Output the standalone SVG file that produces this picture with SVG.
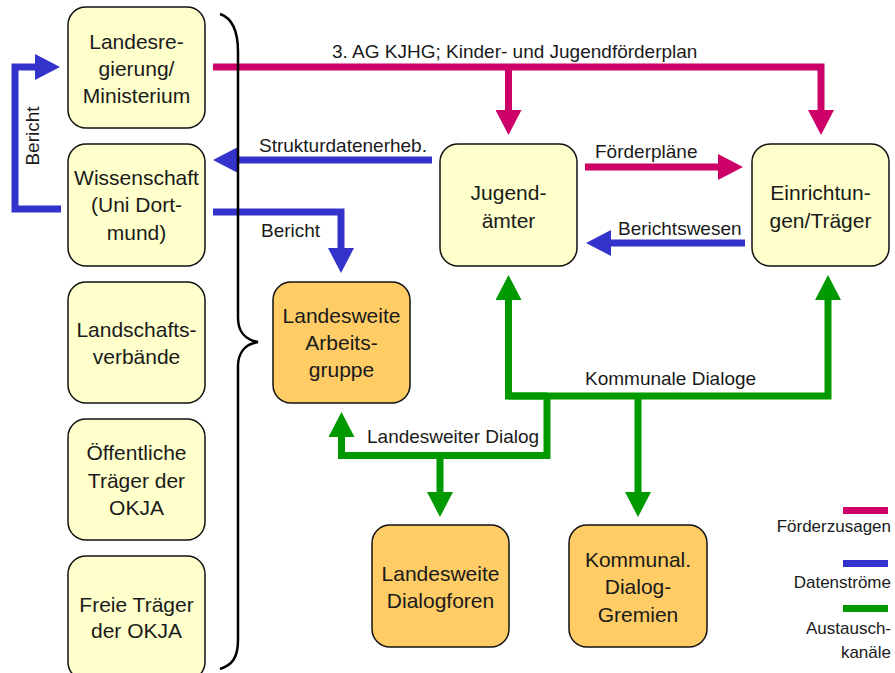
<svg xmlns="http://www.w3.org/2000/svg" width="895" height="673" viewBox="0 0 895 673">
<style>
.y{fill:#FFFFCC;stroke:#111;stroke-width:1.5}
.o{fill:#FFCC66;stroke:#111;stroke-width:1.5}
.t{font-family:"Liberation Sans",Arial,sans-serif;font-size:21px;fill:#1a1a1a;text-anchor:middle}
.l{font-family:"Liberation Sans",Arial,sans-serif;font-size:19px;fill:#1a1a1a}
.lg{font-family:"Liberation Sans",Arial,sans-serif;font-size:17px;fill:#1a1a1a;text-anchor:end}
.m{fill:none;stroke:#CC0066;stroke-width:7}
.b{fill:none;stroke:#3333CC;stroke-width:7}
.g{fill:none;stroke:#009900;stroke-width:7}
</style>
<defs>
<marker id="am" markerUnits="userSpaceOnUse" markerWidth="26" markerHeight="26" viewBox="0 -13 25 26" refX="0" refY="0" orient="auto"><path d="M0,-13L25,0L0,13z" fill="#CC0066"/></marker>
<marker id="ab" markerUnits="userSpaceOnUse" markerWidth="26" markerHeight="26" viewBox="0 -13 25 26" refX="0" refY="0" orient="auto"><path d="M0,-13L25,0L0,13z" fill="#3333CC"/></marker>
<marker id="ag" markerUnits="userSpaceOnUse" markerWidth="26" markerHeight="26" viewBox="0 -13 25 26" refX="0" refY="0" orient="auto"><path d="M0,-13L25,0L0,13z" fill="#009900"/></marker>
</defs>
<rect width="895" height="673" fill="#fff"/>

<g id="connectors">
<path class="m" d="M213,67H821V110" marker-end="url(#am)"/>
<path class="m" d="M508.5,67V110" marker-end="url(#am)"/>
<path class="m" d="M585,167H718" marker-end="url(#am)"/>
<path class="b" d="M745,243H611" marker-end="url(#ab)"/>
<path class="b" d="M432,160H238" marker-end="url(#ab)"/>
<path class="b" d="M213,212H341V248" marker-end="url(#ab)"/>
<path class="b" d="M61,209H15V67H35" marker-end="url(#ab)"/>
<path class="g" d="M508.5,396H828V300" marker-end="url(#ag)"/>
<path class="g" d="M547,396H508.5V300" marker-end="url(#ag)"/>
<path class="g" d="M638,396V492" marker-end="url(#ag)"/>
<path class="g" d="M547,396V455.5H341.5V437" marker-end="url(#ag)"/>
<path class="g" d="M440,455.5V492" marker-end="url(#ag)"/>
<path d="M220,14C232,18 238,30 238,52V318C238,332 246,340 258,342C246,344 238,352 238,366V640C238,658 232,665 220,669" fill="none" stroke="#000" stroke-width="2.5"/>
</g>

<g id="labels">
<text class="l" x="332" y="58">3. AG KJHG; Kinder- und Jugendförderplan</text>
<text class="l" x="259" y="152">Strukturdatenerheb.</text>
<text class="l" x="261" y="237">Bericht</text>
<text class="l" x="595" y="158">Förderpläne</text>
<text class="l" x="618" y="235">Berichtswesen</text>
<text class="l" x="367" y="443">Landesweiter Dialog</text>
<text class="l" x="585" y="385">Kommunale Dialoge</text>
<text class="l" x="39" y="136" text-anchor="middle" transform="rotate(-90 39 136)">Bericht</text>
</g>

<g id="landesregierung"><rect class="y" x="68" y="7" width="137" height="121" rx="18"/>
<text class="t" x="136.5" y="49">Landesre-</text><text class="t" x="136.5" y="76">gierung/</text><text class="t" x="136.5" y="103">Ministerium</text></g>
<g id="wissenschaft"><rect class="y" x="68" y="144" width="137" height="122" rx="18"/>
<text class="t" x="136.5" y="185">Wissenschaft</text><text class="t" x="136.5" y="212">(Uni Dort-</text><text class="t" x="136.5" y="240">mund)</text></g>
<g id="landschaftsverbaende"><rect class="y" x="68" y="282" width="137" height="121" rx="18"/>
<text class="t" x="136.5" y="337">Landschafts-</text><text class="t" x="136.5" y="364">verbände</text></g>
<g id="oeffentliche"><rect class="y" x="68" y="419" width="137" height="121" rx="18"/>
<text class="t" x="136.5" y="460">Öffentliche</text><text class="t" x="136.5" y="488">Träger der</text><text class="t" x="136.5" y="515">OKJA</text></g>
<g id="freie"><rect class="y" x="68" y="556" width="137" height="124" rx="18"/>
<text class="t" x="136.5" y="612">Freie Träger</text><text class="t" x="136.5" y="638">der OKJA</text></g>
<g id="jugendaemter"><rect class="y" x="440" y="144" width="137" height="122" rx="18"/>
<text class="t" x="508.5" y="200">Jugend-</text><text class="t" x="508.5" y="228">ämter</text></g>
<g id="einrichtungen"><rect class="y" x="752" y="144" width="137" height="122" rx="18"/>
<text class="t" x="820.5" y="200">Einrichtun-</text><text class="t" x="820.5" y="228">gen/Träger</text></g>
<g id="arbeitsgruppe"><rect class="o" x="273" y="282" width="137" height="121" rx="18"/>
<text class="t" x="341.5" y="323">Landesweite</text><text class="t" x="341.5" y="350">Arbeits-</text><text class="t" x="341.5" y="377">gruppe</text></g>
<g id="dialogforen"><rect class="o" x="372" y="525" width="137" height="122" rx="18"/>
<text class="t" x="440.5" y="581">Landesweite</text><text class="t" x="440.5" y="608">Dialogforen</text></g>
<g id="gremien"><rect class="o" x="569" y="525" width="138" height="122" rx="18"/>
<text class="t" x="638" y="567">Kommunal.</text><text class="t" x="638" y="594">Dialog-</text><text class="t" x="638" y="622">Gremien</text></g>

<g id="legend">
<rect x="843" y="507" width="45" height="7" fill="#CC0066"/>
<text class="lg" x="891" y="532">Förderzusagen</text>
<rect x="843" y="560" width="45" height="7" fill="#3333CC"/>
<text class="lg" x="891" y="588">Datenströme</text>
<rect x="843" y="605" width="45" height="7" fill="#009900"/>
<text class="lg" x="891" y="634">Austausch-</text>
<text class="lg" x="891" y="658">kanäle</text>
</g>
</svg>
